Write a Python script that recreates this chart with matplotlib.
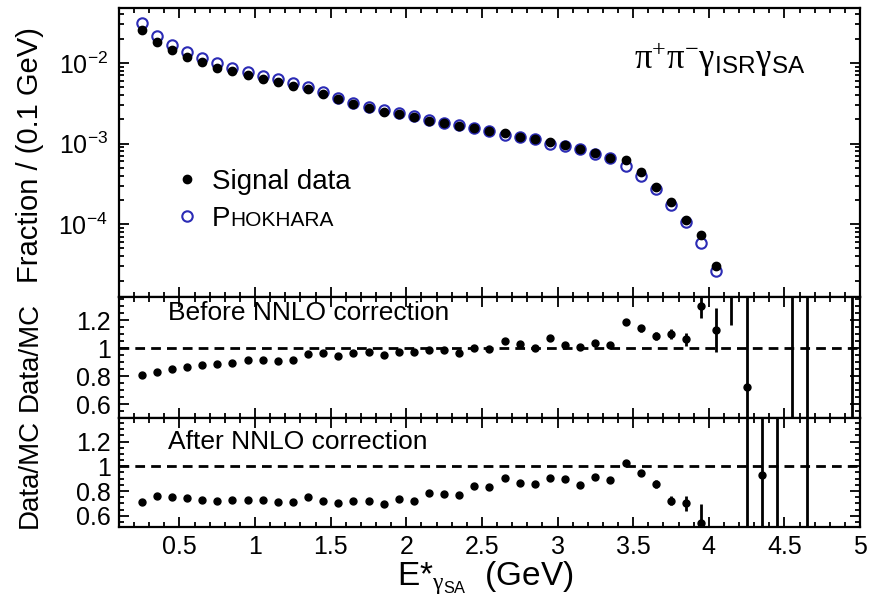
import numpy as np
import matplotlib
matplotlib.use("Agg")
import matplotlib.pyplot as plt
from matplotlib.ticker import MultipleLocator, FixedLocator, LogLocator, NullFormatter, FuncFormatter
from matplotlib.lines import Line2D

plt.rcParams['font.family'] = ['Liberation Sans', 'DejaVu Sans']
plt.rcParams['mathtext.fontset'] = 'custom'
plt.rcParams['mathtext.rm'] = 'Liberation Serif'
plt.rcParams['mathtext.it'] = 'Liberation Serif:italic'
plt.rcParams['mathtext.sf'] = 'Liberation Sans'

# bin centres (0.1 GeV bins)
e_spec = [0.25, 0.35, 0.45, 0.55, 0.65, 0.75, 0.85, 0.95, 1.05, 1.15, 1.25, 1.35, 1.45,
          1.55, 1.65, 1.75, 1.85, 1.95, 2.05, 2.15, 2.25, 2.35, 2.45, 2.55, 2.65, 2.75,
          2.85, 2.95, 3.05, 3.15, 3.25, 3.35, 3.45, 3.55, 3.65, 3.75, 3.85, 3.95, 4.05]
signal = [0.0255, 0.0184, 0.0145, 0.0120, 0.0102, 0.00875, 0.00789, 0.0071, 0.00638,
          0.0058, 0.00518, 0.0048, 0.00416, 0.00354, 0.00312, 0.00278, 0.00248, 0.00231,
          0.00211, 0.00192, 0.00178, 0.00165, 0.00155, 0.00143, 0.00134, 0.00122, 0.00115,
          0.00105, 0.00095, 0.00086, 7.7e-4, 6.7e-4, 6.2e-4, 4.5e-4, 2.9e-4, 1.9e-4,
          1.12e-4, 7.4e-5, 3.0e-5]
phokhara = [0.031, 0.0218, 0.0167, 0.0136, 0.0115, 0.0099, 0.00867, 0.0078, 0.0069,
            0.00627, 0.0056, 0.0050, 0.0043, 0.0037, 0.0032, 0.00285, 0.0026, 0.00238,
            0.00217, 0.00194, 0.0018, 0.00171, 0.00155, 0.00144, 0.00128, 0.00119, 0.00115,
            0.00098, 0.00093, 0.00085, 7.4e-4, 6.6e-4, 5.3e-4, 3.95e-4, 2.72e-4, 1.72e-4,
            1.07e-4, 5.9e-5, 2.6e-5]

e_ratio = [0.25, 0.35, 0.45, 0.55, 0.65, 0.75, 0.85, 0.95, 1.05, 1.15, 1.25, 1.35, 1.45,
           1.55, 1.65, 1.75, 1.85, 1.95, 2.05, 2.15, 2.25, 2.35, 2.45, 2.55, 2.65, 2.75,
           2.85, 2.95, 3.05, 3.15, 3.25, 3.35, 3.45, 3.55, 3.65, 3.75, 3.85, 3.95, 4.05,
           4.15, 4.25, 4.35, 4.45, 4.55, 4.65, 4.75, 4.85, 4.95]
nan = np.nan
before = [0.807, 0.83, 0.852, 0.866, 0.876, 0.883, 0.893, 0.912, 0.917, 0.91, 0.912, 0.96,
          0.964, 0.945, 0.964, 0.974, 0.95, 0.969, 0.969, 0.988, 0.983, 0.962, 1.002, 0.994,
          1.05, 1.026, 0.997, 1.072, 1.019, 1.007, 1.038, 1.021, 1.188, 1.14, 1.086, 1.10,
          1.062, 1.30, 1.13, 1.50, 0.72, nan, nan, 2.5, 2.5, nan, nan, 2.5]
before_err = [0.006] * 32 + [0.02, 0.025, 0.03, 0.035, 0.045, 0.085, 0.157, 0.335, 1.2,
                             0, 0, 2.5, 2.5, 0, 0, 2.5]
after = [0.712, 0.76, 0.755, 0.742, 0.728, 0.72, 0.728, 0.728, 0.728, 0.715, 0.715, 0.75,
         0.722, 0.704, 0.722, 0.722, 0.696, 0.733, 0.72, 0.781, 0.776, 0.77, 0.84, 0.835,
         0.909, 0.867, 0.861, 0.909, 0.901, 0.848, 0.915, 0.888, 1.03, 0.947, 0.856, 0.722,
         0.70, 0.546, nan, nan, 2.5, 0.933, 2.5, nan, 2.5, nan, nan, nan]
after_err = [0.006] * 32 + [0.015, 0.02, 0.03, 0.035, 0.06, 0.15, 0, 0, 2.5, 1.2, 2.5,
                            0, 2.5, 0, 0, 0]

fig = plt.figure(figsize=(8.77, 6.13), dpi=100)
W, H = 877, 613
x0, x1 = 119 / W, 860 / W
ax_top = fig.add_axes([x0, 1 - 297 / H, x1 - x0, 289 / H])
ax_mid = fig.add_axes([x0, 1 - 418 / H, x1 - x0, 121 / H])
ax_bot = fig.add_axes([x0, 1 - 527 / H, x1 - x0, 109 / H])

for ax in (ax_top, ax_mid, ax_bot):
    ax.set_xlim(0.1, 5.0)
    ax.xaxis.set_major_locator(MultipleLocator(0.5))
    ax.xaxis.set_minor_locator(MultipleLocator(0.1))
    ax.tick_params(which='both', direction='in', top=True, right=True, width=1.3)
    ax.tick_params(which='major', length=7, labelsize=18, pad=6)
    ax.tick_params(which='minor', length=3.5)
    for s in ax.spines.values():
        s.set_linewidth(1.6)

# top panel
ax_top.set_yscale('log')
ax_top.set_ylim(1.25e-5, 0.048)
ax_top.yaxis.set_major_locator(FixedLocator([1e-4, 1e-3, 1e-2]))
ax_top.yaxis.set_minor_locator(LogLocator(base=10, subs=np.arange(2, 10)))
ax_top.yaxis.set_minor_formatter(NullFormatter())
ax_top.tick_params(axis='y', labelsize=18, pad=8)
ax_top.tick_params(axis='x', labelbottom=False)
ax_top.plot(e_spec, phokhara, 'o', ms=7.5, mfc='none', mec='#2b2bb5', mew=1.5)
ax_top.plot(e_spec, signal, 'o', ms=6, color='black')
ax_top.text(0.695, 0.79, r'$\mathrm{\pi^{+}\pi^{-}\gamma_{\mathsf{ISR}}\gamma_{\mathsf{SA}}}$',
            transform=ax_top.transAxes, fontsize=25)

handles = [Line2D([], [], ls='none', marker='o', ms=6, color='black'),
           Line2D([], [], ls='none', marker='o', ms=7.5, mfc='none', mec='#2b2bb5', mew=1.5)]
leg = ax_top.legend(handles, ['Signal data', 'P'], loc='upper left',
                    bbox_to_anchor=(0.035, 0.53), frameon=False, fontsize=20,
                    handletextpad=0.3, labelspacing=0.4, handlelength=1.2)
ptext = leg.get_texts()[1]
ax_top.annotate('HOKHARA', xy=(1, 0), xycoords=ptext, fontsize=15, va='bottom',
                ha='left', xytext=(0, 1.5), textcoords='offset points', zorder=10)

ratio_fmt = FuncFormatter(lambda v, p: '%g' % v)
for ax, vals, errs, lim, lab, ty in ((ax_mid, before, before_err, (0.5, 1.365), 'Before NNLO correction', 0.868),
                                     (ax_bot, after, after_err, (0.51, 1.39), 'After NNLO correction', 0.78)):
    ax.set_ylim(*lim)
    ax.yaxis.set_major_locator(FixedLocator([0.6, 0.8, 1.0, 1.2]))
    ax.yaxis.set_minor_locator(MultipleLocator(0.05))
    ax.yaxis.set_major_formatter(ratio_fmt)
    ax.axhline(1.0, color='black', lw=2, ls=(0, (3.5, 2.2)))
    ax.errorbar(e_ratio, vals, yerr=errs, fmt='o', ms=5, color='black',
                elinewidth=2, capsize=0)
    ax.text(0.066, ty, lab, transform=ax.transAxes, fontsize=19, va='center')

ax_mid.tick_params(axis='x', labelbottom=False)
ax_bot.xaxis.set_major_formatter(ratio_fmt)

fig.text(30 / W, 1 - 155 / H, 'Fraction / (0.1 GeV)', rotation=90, fontsize=21,
         ha='center', va='center')
fig.text(30 / W, 1 - 356 / H, 'Data/MC', rotation=90, fontsize=20, ha='center', va='center')
fig.text(30 / W, 1 - 473 / H, 'Data/MC', rotation=90, fontsize=20, ha='center', va='center')
fig.text(485 / W, 1 - 578 / H, r'E*$_{\mathrm{\gamma}_{\mathsf{SA}}}$  (GeV)', fontsize=24,
         ha='center', va='center')

fig.savefig('out.png', dpi=100)
